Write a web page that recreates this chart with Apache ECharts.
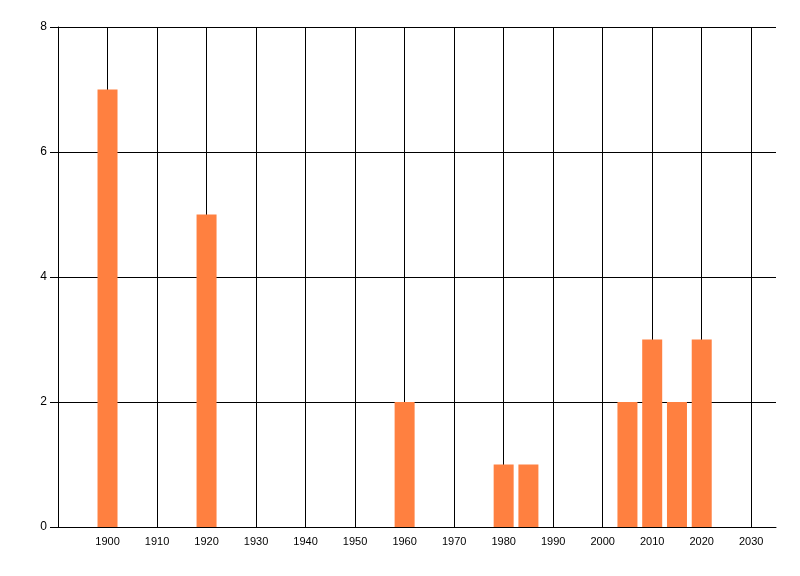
<!DOCTYPE html>
<html><head><meta charset="utf-8">
<script src="https://cdn.jsdelivr.net/npm/echarts@6/dist/echarts.min.js"></script>
<style>html,body{margin:0;padding:0;background:#fff}#c{width:800px;height:576px}</style>
</head><body><div id="c"></div>
<script>
var years = [1900, 1920, 1960, 1980, 1985, 2005, 2010, 2015, 2020];
var counts = [7, 5, 2, 1, 1, 2, 3, 2, 3];
var xMin = 1890, xMax = 2035, xStep = 10;
var yMin = 0, yMax = 8, yStep = 2;

var chart = echarts.init(document.getElementById('c'), null, {renderer: 'canvas'});
chart.setOption({
  animation: false,
  grid: {left: 58, right: 24, top: 27, bottom: 49, containLabel: false},
  xAxis: {
    type: 'value', min: xMin, max: xMax, interval: xStep,
    axisLine: {show: true, onZero: false, lineStyle: {color: '#000', width: 1}},
    axisTick: {show: false},
    axisLabel: {color: '#000', fontFamily: 'Liberation Sans', fontSize: 11, margin: 9, showMinLabel: false, showMaxLabel: false,
      formatter: function (v) { return (v === xMin || v > 2030) ? '' : String(v); }},
    splitLine: {show: true, showMinLine: false, showMaxLine: false, lineStyle: {color: '#000', width: 1}}
  },
  yAxis: {
    type: 'value', min: yMin, max: yMax, interval: yStep,
    axisLine: {show: true, lineStyle: {color: '#000', width: 1}},
    axisTick: {show: true, length: 8, lineStyle: {color: '#000'}},
    axisLabel: {color: '#000', fontFamily: 'Liberation Sans', fontSize: 12, margin: 11},
    splitLine: {show: true, showMinLine: false, lineStyle: {color: '#000', width: 1}}
  },
  series: [{
    type: 'bar',
    data: years.map(function (y, i) { return [y, counts[i]]; }),
    barWidth: 20,
    itemStyle: {color: '#ff8040'}
  }]
});
</script></body></html>
